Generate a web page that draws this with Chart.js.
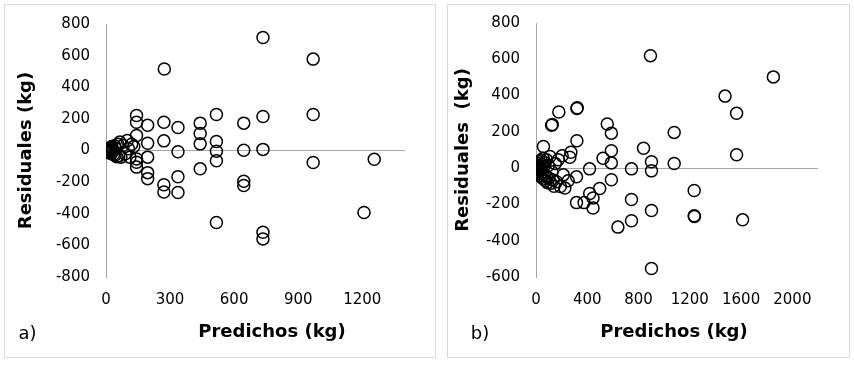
<!DOCTYPE html>
<html><head><meta charset="utf-8">
<script src="https://cdn.jsdelivr.net/npm/chart.js@4/dist/chart.umd.min.js"></script>
<style>
html,body{margin:0;padding:0;background:#fff;}
body{width:854px;height:365px;position:relative;overflow:hidden;}
.panel{position:absolute;border:1px solid #d9d9d9;box-sizing:border-box;}
canvas{position:absolute;}
</style></head><body>
<div class="panel" style="left:4px;top:4px;width:432px;height:354px"></div>
<div class="panel" style="left:447px;top:4px;width:403px;height:354px"></div>
<canvas id="ca" style="left:5px;top:5px" width="429" height="351"></canvas>
<canvas id="cb" style="left:448px;top:5px" width="400" height="351"></canvas>
<script>
// ---- Panel a) data ----
const predA  = [735,970,273,970,517,735,143,143,195,271,337,441,645,441,441,271,517,517,337,645,735,195,143,195,143,143,143,195,195,271,271,337,337,441,517,645,645,517,735,735,970,1208,1256,
  0,3,5,8,10,12,15,18,20,22,25,28,30,35,40,42,45,50,55,60,65,70,80,90,100,105,112,120,130];
const residA = [715,578,515,228,228,215,221,179,160,179,146,173,173,108,42,61,57,-5,-8,2,7,46,95,-42,-74,-105,-53,-140,-178,-217,-263,-166,-266,-116,-65,-194,-221,-455,-517,-559,-76,-392,-55,
  -5,3,-10,6,-2,10,-15,12,-8,20,-20,25,5,-25,30,-30,15,-40,40,-35,53,-42,32,-21,63,11,-42,40,25];
const xTicksA = [0,300,600,900,1200];
const yTicksA = [-800,-600,-400,-200,0,200,400,600,800];

// ---- Panel b) data ----
const predB  = [893,1852,1475,1565,1565,1078,1078,319,322,178,122,127,556,588,319,58,588,839,901,901,523,588,745,418,588,
  272,204,264,316,251,190,225,497,419,445,445,316,375,745,745,639,901,901,1234,1234,1236,1612,
  0,5,8,10,12,15,18,20,25,28,30,32,35,40,42,45,50,55,58,60,65,70,75,80,82,90,95,100,109,117,125,133,140,150,160,174,213];
const residB = [620,503,397,303,74,197,26,329,333,309,236,240,243,193,151,119,96,110,35,-15,55,29,-4,-4,-64,
  88,68,60,-48,-70,-101,-110,-112,-140,-165,-220,-190,-190,-173,-290,-325,-233,-553,-123,-263,-266,-285,
  0,-8,12,-20,5,25,-30,2,-12,35,-40,15,-5,45,-50,20,-25,55,-60,8,-35,30,-70,-45,46,-80,15,-55,64,-83,-20,-65,-100,25,-75,46,-37];
const xTicksB = [0,400,800,1200,1600,2000];
const yTicksB = [-600,-400,-200,0,200,400,600,800];

const FONT = '"DejaVu Sans", Verdana, sans-serif';
const AXIS = '#a6a6a6';
const NONE = 'rgba(0,0,0,0)';

const panelText = {
  id: 'panelText',
  afterDraw(chart, args, o) {
    const ctx = chart.ctx;
    ctx.save();
    ctx.fillStyle = '#000';
    ctx.textBaseline = 'alphabetic';
    ctx.font = 'bold 18px ' + FONT;
    ctx.textAlign = 'center';
    ctx.fillText(o.xTitle, o.xTitleX, o.xTitleY);
    ctx.font = '18px ' + FONT;
    ctx.textAlign = 'left';
    ctx.fillText(o.label, o.labelX, o.labelY);
    ctx.restore();
  }
};

function makeChart(id, xs, ys, xMax, xTicks, yMin, yMax, yTicks, yTitle, yTitlePad, yWidth, padTop, padRight, txt) {
  const pts = xs.map((x, i) => ({x: x, y: ys[i]}));
  return new Chart(document.getElementById(id), {
    type: 'scatter',
    data: { datasets: [{ data: pts, pointRadius: 6, pointHoverRadius: 6, borderWidth: 1.5,
      borderColor: '#000', backgroundColor: NONE, pointStyle: 'circle' }] },
    plugins: [panelText],
    options: {
      responsive: false, animation: false, devicePixelRatio: 1,
      layout: { padding: { left: 0, top: padTop, right: padRight, bottom: 0 } },
      plugins: { legend: { display: false }, tooltip: { enabled: false }, panelText: txt },
      scales: {
        x: {
          type: 'linear', min: 0, max: xMax,
          afterBuildTicks: s => { s.ticks = xTicks.map(v => ({value: v})); },
          afterFit: s => { s.height = 79; },
          grid: { display: false, drawTicks: false },
          border: { display: false },
          ticks: { font: { family: FONT, size: 15 }, color: '#000', padding: 14, maxRotation: 0,
                   callback: v => String(v) }
        },
        y: {
          type: 'linear', min: yMin, max: yMax,
          afterBuildTicks: s => { s.ticks = yTicks.map(v => ({value: v})); },
          afterFit: s => { s.width = yWidth; },
          grid: { drawTicks: true, tickLength: 13, tickColor: NONE, lineWidth: 1,
                  color: c => (c.tick && c.tick.value === 0) ? AXIS : NONE },
          border: { display: true, color: AXIS, width: 1 },
          ticks: { font: { family: FONT, size: 15 }, color: '#000', padding: 3, callback: v => String(v) },
          title: { display: true, text: yTitle, color: '#000', font: { family: FONT, size: 18, weight: 'bold' }, padding: { top: yTitlePad, bottom: 0 } }
        }
      }
    }
  });
}

makeChart('ca', predA, residA, 1400, xTicksA, -800, 800, yTicksA, 'Residuales (kg)', 11, 101, 19, 29,
  { xTitle: 'Predichos (kg)', xTitleX: 267, xTitleY: 332, label: 'a)', labelX: 13.5, labelY: 333.5 });
makeChart('cb', predB, residB, 2200, xTicksB, -600, 800, yTicksB, 'Residuales  (kg)', 5, 88, 18, 30,
  { xTitle: 'Predichos (kg)', xTitleX: 226, xTitleY: 332, label: 'b)', labelX: 22.7, labelY: 333.5 });
</script>
</body></html>
